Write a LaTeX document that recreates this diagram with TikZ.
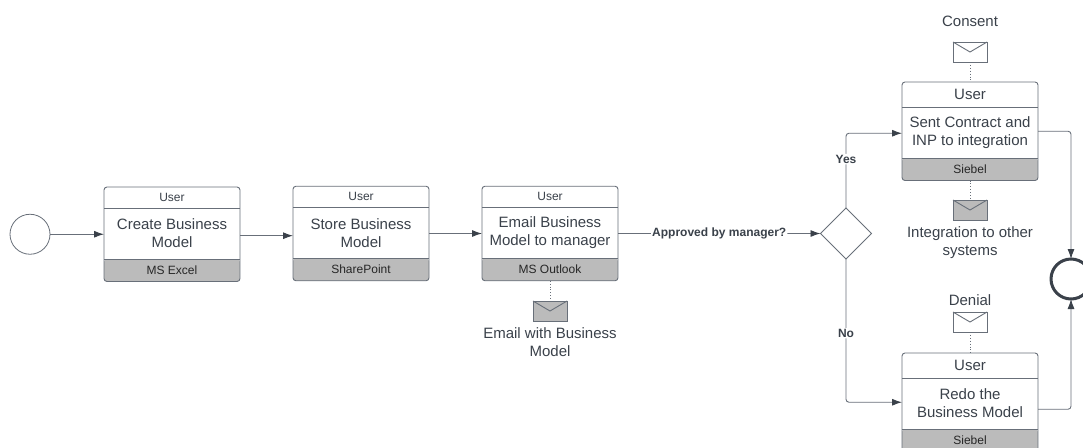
\documentclass[tikz,border=0pt]{standalone}
\usepackage{fontspec}
\setmainfont{Liberation Sans}
\usetikzlibrary{arrows.meta,positioning,shapes.geometric}

\definecolor{inkgray}{HTML}{3A414A}
\definecolor{linegray}{HTML}{686F79}
\definecolor{toolgray}{HTML}{BBBBBB}

\tikzset{
    bigtext/.style={font=\fontsize{15}{18}\selectfont,text=inkgray,align=center,inner sep=0pt},
    smalltext/.style={font=\fontsize{12}{14}\selectfont,text=inkgray,align=center,inner sep=0pt},
    tooltext/.style={font=\fontsize{12}{14}\selectfont,text=black!85,inner sep=0pt},
    boldtext/.style={font=\fontsize{12}{14}\bfseries\selectfont,text=inkgray,fill=white,inner sep=1pt},
    taskbox/.style={draw=linegray,line width=0.9pt,rounded corners=3pt,fill=white,minimum width=136pt,
        inner sep=0pt,outer sep=0pt,anchor=north,
        path picture={\fill[toolgray] ([yshift=22.5pt]path picture bounding box.south west) rectangle (path picture bounding box.south east);}},
    taskline/.style={draw=linegray,line width=0.7pt},
    flow/.style={draw=linegray,line width=0.9pt,-{Latex[length=10pt,width=7pt,color=inkgray]},rounded corners=3pt},
    noteline/.style={draw=linegray,line width=0.9pt,dotted},
    envelopebox/.style={draw=linegray,line width=0.9pt,minimum width=34pt,minimum height=20pt,inner sep=0pt,outer sep=0pt},
    eventcircle/.style={circle,draw=linegray,line width=0.8pt,minimum size=40pt,inner sep=0pt,outer sep=0pt},
    gateway/.style={diamond,aspect=1,draw=linegray,line width=0.8pt,minimum width=51pt,minimum height=51pt,inner sep=0pt,outer sep=0pt}
}

% name, top centre, height of the head, style of the head, text, tool
\newcommand{\usertask}[6]{
    \node[taskbox,minimum height=#3pt+73.5pt] (#1) at (#2) {};
    \draw[taskline] ([yshift=-#3pt]#1.north west) -- ([yshift=-#3pt]#1.north east);
    \draw[taskline] ([yshift=22.5pt]#1.south west) -- ([yshift=22.5pt]#1.south east);
    \node[#4] (#1head) at ([yshift=-#3pt/2]#1.north) {User};
    \node[bigtext] (#1text) at ([yshift=-#3pt-25.5pt]#1.north) {#5};
    \node[tooltext] (#1tool) at ([yshift=11.25pt]#1.south) {#6};
}

% name, centre, fill
\newcommand{\mailicon}[3]{
    \node[envelopebox,fill=#3] (#1) at (#2) {};
    \draw[linegray,line width=0.9pt] (#1.north west) -- ([yshift=-10pt]#1.north) -- (#1.north east);
}

\begin{document}
\begin{tikzpicture}[x=1pt,y=-1pt]
    \path[use as bounding box,clip] (0,0) rectangle (1083,447);

    % start, gateway and end
    \node[eventcircle] (start) at (30,234.25) {};
    \node[gateway] (gate) at (846,233.5) {};
    \node[eventcircle,draw=inkgray,line width=3pt] (end) at (1071,279) {};

    % tasks
    \usertask{create}{172,187}{21}{smalltext}{Create Business\\Model}{MS Excel}
    \usertask{store}{361,186.25}{21}{smalltext}{Store Business\\Model}{SharePoint}
    \usertask{mail}{550,186.25}{21}{smalltext}{Email Business\\Model to manager}{MS Outlook}
    \usertask{sent}{970,82}{25}{bigtext}{Sent Contract and\\INP to integration}{Siebel}
    \usertask{redo}{970,353}{25}{bigtext}{Redo the\\Business Model}{Siebel}

    % messages
    \mailicon{consent}{970,52}{white}
    \mailicon{integration}{970,210}{toolgray}
    \mailicon{denial}{970,322}{white}
    \mailicon{outlook}{550,311}{toolgray}

    \node[bigtext,above=15pt of consent] (consentlabel) {Consent};
    \node[bigtext,below=6pt of integration] (integrationlabel) {Integration to other\\systems};
    \node[bigtext,above=6pt of denial] (deniallabel) {Denial};
    \node[bigtext,below=6pt of outlook] (outlooklabel) {Email with Business\\Model};

    \draw[noteline] (consent.south) -- (sent.north);
    \draw[noteline] (sent.south) -- (integration.north);
    \draw[noteline] (denial.south) -- (redo.north);
    \draw[noteline] (mail.south) -- (outlook.north);

    % sequence flows
    \draw[flow] (start.east) -- (create.west);
    \draw[flow] ([yshift=-1.45pt]create.east) -- ([yshift=-1.45pt]create.east -| store.west);
    \draw[flow] (store.east) -- (mail.west);
    \draw[flow] (mail.east) -- node[boldtext] (approved) {Approved by manager?} (gate.west);
    \draw[flow] (gate.north) |- node[boldtext,pos=0.327] (yes) {Yes} ([yshift=-2pt]sent.west);
    \draw[flow] (gate.south) |- node[boldtext,pos=0.259] (no) {No} (redo.west);
    \draw[flow] (sent.east) -| (end.north);
    \draw[flow] ([yshift=-7pt]redo.east) -| (end.south);
\end{tikzpicture}
\end{document}
